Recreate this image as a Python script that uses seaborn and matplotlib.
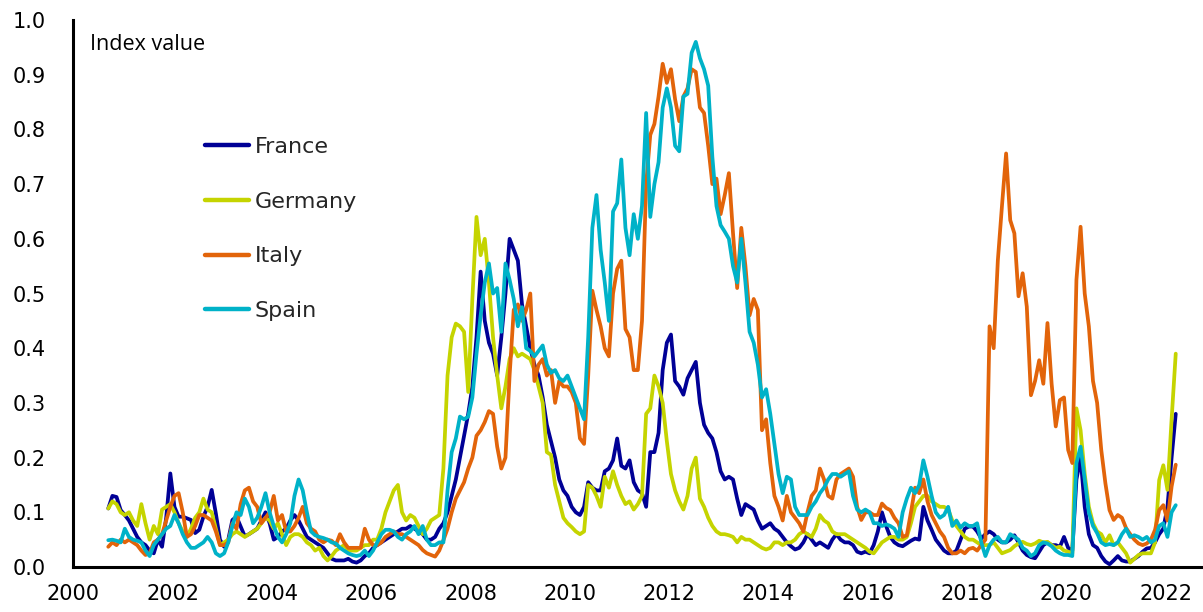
import numpy as np
import pandas as pd
import matplotlib
matplotlib.use("Agg")
import matplotlib.pyplot as plt
import seaborn as sns

# ---------------- data (monthly, Sep 2000 - Mar 2022) ----------------
countries = ["France", "Germany", "Italy", "Spain"]
colors = ["#000096", "#C5D400", "#E2640A", "#00B2C8"]
start_year, start_month = 2000, 9

france = [
    0.107, 0.13, 0.128, 0.104,
    0.095, 0.085, 0.07, 0.055, 0.045, 0.04, 0.03, 0.025, 0.05, 0.037, 0.09, 0.171,
    0.11, 0.092, 0.092, 0.089, 0.086, 0.062, 0.068, 0.092, 0.11, 0.141, 0.098, 0.05,
    0.037, 0.05, 0.086, 0.092, 0.074, 0.056, 0.06, 0.065, 0.07, 0.085, 0.1, 0.08,
    0.05, 0.055, 0.065, 0.07, 0.085, 0.095, 0.085, 0.07, 0.055, 0.05, 0.045, 0.04,
    0.035, 0.025, 0.015, 0.012, 0.012, 0.012, 0.015, 0.01, 0.008, 0.012, 0.02, 0.025,
    0.035, 0.04, 0.045, 0.05, 0.055, 0.06, 0.065, 0.07, 0.07, 0.075, 0.07, 0.065,
    0.06, 0.05, 0.05, 0.055, 0.07, 0.08, 0.1, 0.13, 0.16, 0.2, 0.24, 0.28,
    0.33, 0.42, 0.54, 0.45, 0.41, 0.39, 0.35, 0.42, 0.5, 0.6, 0.58, 0.56,
    0.48, 0.44, 0.4, 0.37, 0.35, 0.31, 0.26, 0.23, 0.2, 0.16, 0.14, 0.13,
    0.11, 0.1, 0.095, 0.11, 0.155, 0.145, 0.14, 0.14, 0.175, 0.18, 0.195, 0.235,
    0.185, 0.18, 0.195, 0.155, 0.14, 0.135, 0.11, 0.21, 0.21, 0.245, 0.36, 0.41,
    0.425, 0.34, 0.33, 0.315, 0.345, 0.36, 0.375, 0.3, 0.26, 0.245, 0.235, 0.21,
    0.175, 0.16, 0.165, 0.16, 0.125, 0.095, 0.115, 0.11, 0.105, 0.085, 0.07, 0.075,
    0.08, 0.07, 0.065, 0.055, 0.045, 0.038, 0.032, 0.035, 0.045, 0.06, 0.05, 0.04,
    0.045, 0.04, 0.035, 0.05, 0.06, 0.05, 0.045, 0.045, 0.04, 0.028, 0.025, 0.028,
    0.025, 0.04, 0.065, 0.1, 0.075, 0.055, 0.045, 0.04, 0.038, 0.043, 0.048, 0.052,
    0.05, 0.11, 0.085, 0.068, 0.05, 0.04, 0.03, 0.025, 0.025, 0.03, 0.05, 0.07,
    0.074, 0.074, 0.065, 0.052, 0.06, 0.065, 0.06, 0.05, 0.045, 0.045, 0.05, 0.058,
    0.045, 0.03, 0.022, 0.018, 0.016, 0.028, 0.04, 0.045, 0.04, 0.04, 0.037, 0.055,
    0.035, 0.03, 0.16, 0.2, 0.11, 0.06, 0.04, 0.035, 0.02, 0.01, 0.005, 0.012,
    0.02, 0.012, 0.01, 0.01, 0.015, 0.02, 0.028, 0.034, 0.035, 0.045, 0.06, 0.07,
    0.11, 0.2, 0.28,
]

germany = [
    0.107, 0.12, 0.115, 0.1,
    0.095, 0.1, 0.085, 0.075, 0.115, 0.08, 0.05, 0.075, 0.06, 0.105, 0.11, 0.115,
    0.1, 0.08, 0.065, 0.055, 0.07, 0.09, 0.1, 0.125, 0.105, 0.1, 0.07, 0.04,
    0.045, 0.05, 0.06, 0.065, 0.06, 0.055, 0.06, 0.065, 0.07, 0.08, 0.09, 0.085,
    0.07, 0.08, 0.06, 0.04, 0.055, 0.06, 0.06, 0.055, 0.045, 0.04, 0.03, 0.035,
    0.02, 0.012, 0.02, 0.03, 0.035, 0.04, 0.03, 0.03, 0.03, 0.035, 0.04, 0.04,
    0.05, 0.05, 0.07, 0.1, 0.12, 0.14, 0.15, 0.1, 0.085, 0.095, 0.09, 0.075,
    0.06, 0.07, 0.085, 0.09, 0.095, 0.18, 0.35, 0.42, 0.445, 0.44, 0.43, 0.32,
    0.49, 0.64, 0.57, 0.6, 0.52, 0.42, 0.35, 0.29, 0.33, 0.38, 0.4, 0.385,
    0.39, 0.385, 0.38, 0.36, 0.33, 0.3, 0.21, 0.205, 0.15, 0.12, 0.09, 0.08,
    0.073, 0.065, 0.06, 0.065, 0.15, 0.145, 0.13, 0.11, 0.165, 0.145, 0.175, 0.15,
    0.13, 0.115, 0.12, 0.105, 0.115, 0.13, 0.28, 0.29, 0.35, 0.33, 0.3, 0.23,
    0.17, 0.14, 0.12, 0.105, 0.13, 0.18, 0.2, 0.125, 0.11, 0.09, 0.075, 0.065,
    0.06, 0.06, 0.058, 0.055, 0.045, 0.055, 0.05, 0.05, 0.045, 0.04, 0.035, 0.032,
    0.035, 0.045, 0.045, 0.04, 0.045, 0.045, 0.05, 0.06, 0.065, 0.06, 0.055, 0.07,
    0.095, 0.085, 0.08, 0.065, 0.06, 0.06, 0.06, 0.055, 0.05, 0.045, 0.04, 0.035,
    0.028, 0.025, 0.035, 0.045, 0.05, 0.055, 0.055, 0.05, 0.05, 0.055, 0.08, 0.11,
    0.12, 0.13, 0.13, 0.12, 0.115, 0.11, 0.11, 0.105, 0.085, 0.075, 0.065, 0.055,
    0.05, 0.05, 0.045, 0.04, 0.04, 0.04, 0.045, 0.035, 0.025, 0.028, 0.031, 0.038,
    0.043, 0.046, 0.042, 0.04, 0.043, 0.048, 0.045, 0.046, 0.04, 0.035, 0.037, 0.03,
    0.028, 0.025, 0.29, 0.25, 0.17, 0.11, 0.08, 0.065, 0.06, 0.045, 0.058, 0.04,
    0.045, 0.035, 0.025, 0.008, 0.015, 0.022, 0.025, 0.025, 0.025, 0.045, 0.159, 0.186,
    0.141, 0.27, 0.39,
]

italy = [
    0.037, 0.045, 0.04, 0.05,
    0.045, 0.05, 0.045, 0.04, 0.03, 0.022, 0.025, 0.045, 0.05, 0.06, 0.085, 0.11,
    0.13, 0.135, 0.1, 0.055, 0.06, 0.075, 0.095, 0.095, 0.09, 0.085, 0.065, 0.04,
    0.04, 0.045, 0.08, 0.07, 0.115, 0.14, 0.145, 0.12, 0.11, 0.08, 0.09, 0.1,
    0.13, 0.085, 0.095, 0.065, 0.065, 0.075, 0.09, 0.11, 0.08, 0.07, 0.065, 0.05,
    0.045, 0.05, 0.048, 0.04, 0.06, 0.045, 0.035, 0.035, 0.035, 0.035, 0.07, 0.05,
    0.04, 0.04, 0.045, 0.055, 0.06, 0.065, 0.06, 0.06, 0.055, 0.05, 0.045, 0.04,
    0.031, 0.025, 0.022, 0.019, 0.03, 0.049, 0.07, 0.1, 0.125, 0.14, 0.155, 0.18,
    0.2, 0.24, 0.25, 0.265, 0.285, 0.28, 0.22, 0.18, 0.2, 0.35, 0.47, 0.48,
    0.45, 0.47, 0.5, 0.34, 0.37, 0.38, 0.35, 0.36, 0.3, 0.34, 0.33, 0.33,
    0.32, 0.3, 0.235, 0.225, 0.35, 0.505, 0.47, 0.44, 0.4, 0.385, 0.5, 0.545,
    0.56, 0.435, 0.42, 0.36, 0.36, 0.45, 0.7, 0.79, 0.81, 0.86, 0.92, 0.885,
    0.91, 0.855, 0.815, 0.86, 0.875, 0.91, 0.905, 0.84, 0.83, 0.77, 0.7, 0.71,
    0.645, 0.68, 0.72, 0.61, 0.51, 0.62, 0.55, 0.46, 0.49, 0.47, 0.25, 0.27,
    0.19, 0.13, 0.11, 0.085, 0.13, 0.1, 0.09, 0.08, 0.065, 0.1, 0.13, 0.14,
    0.18, 0.16, 0.13, 0.125, 0.16, 0.17, 0.175, 0.18, 0.165, 0.11, 0.086, 0.1,
    0.1, 0.095, 0.095, 0.116, 0.108, 0.104, 0.09, 0.08, 0.055, 0.058, 0.1, 0.145,
    0.135, 0.16, 0.12, 0.095, 0.08, 0.065, 0.055, 0.035, 0.025, 0.025, 0.03, 0.025,
    0.033, 0.035, 0.03, 0.04, 0.05, 0.44, 0.40, 0.56, 0.66, 0.756, 0.634, 0.61,
    0.495, 0.537, 0.476, 0.314, 0.34, 0.378, 0.335, 0.446, 0.335, 0.257, 0.305, 0.31,
    0.214, 0.19, 0.525, 0.622, 0.5, 0.44, 0.34, 0.3, 0.214, 0.153, 0.104, 0.086,
    0.095, 0.09, 0.071, 0.06, 0.05, 0.043, 0.04, 0.043, 0.05, 0.068, 0.104, 0.113,
    0.085, 0.147, 0.187,
]

spain = [
    0.049, 0.05, 0.048, 0.045,
    0.07, 0.055, 0.05, 0.048, 0.045, 0.03, 0.02, 0.04, 0.05, 0.06, 0.07, 0.075,
    0.095, 0.08, 0.06, 0.045, 0.035, 0.035, 0.04, 0.045, 0.055, 0.045, 0.025, 0.02,
    0.025, 0.045, 0.075, 0.1, 0.095, 0.125, 0.11, 0.08, 0.09, 0.11, 0.135, 0.1,
    0.075, 0.055, 0.045, 0.06, 0.08, 0.13, 0.16, 0.14, 0.1, 0.065, 0.058, 0.055,
    0.053, 0.05, 0.045, 0.043, 0.035, 0.03, 0.025, 0.022, 0.02, 0.022, 0.03, 0.02,
    0.03, 0.045, 0.06, 0.068, 0.068, 0.065, 0.055, 0.05, 0.06, 0.065, 0.075, 0.06,
    0.075, 0.05, 0.04, 0.04, 0.045, 0.045, 0.14, 0.21, 0.235, 0.275, 0.27, 0.275,
    0.31, 0.39, 0.46, 0.52, 0.555, 0.5, 0.51, 0.43, 0.555, 0.525, 0.49, 0.44,
    0.475, 0.4, 0.395, 0.385, 0.395, 0.405, 0.37, 0.355, 0.36, 0.345, 0.34, 0.35,
    0.33, 0.31, 0.29, 0.27, 0.42, 0.62, 0.68, 0.58, 0.52, 0.45, 0.65, 0.665,
    0.745, 0.62, 0.57, 0.645, 0.6, 0.66, 0.83, 0.64, 0.7, 0.74, 0.84, 0.875,
    0.84, 0.77, 0.76, 0.86, 0.865, 0.94, 0.96, 0.93, 0.91, 0.88, 0.75, 0.66,
    0.625, 0.613, 0.6, 0.55, 0.52, 0.6, 0.52, 0.43, 0.41, 0.37, 0.31, 0.325,
    0.28, 0.225, 0.17, 0.135, 0.165, 0.16, 0.11, 0.095, 0.095, 0.095, 0.11, 0.12,
    0.135, 0.145, 0.16, 0.17, 0.17, 0.165, 0.17, 0.175, 0.13, 0.105, 0.1, 0.105,
    0.1, 0.08, 0.08, 0.075, 0.078, 0.075, 0.07, 0.055, 0.1, 0.125, 0.145, 0.135,
    0.15, 0.195, 0.165, 0.13, 0.1, 0.09, 0.095, 0.11, 0.075, 0.085, 0.072, 0.08,
    0.075, 0.075, 0.08, 0.045, 0.02, 0.04, 0.05, 0.055, 0.045, 0.045, 0.06, 0.055,
    0.05, 0.035, 0.03, 0.02, 0.025, 0.04, 0.045, 0.043, 0.038, 0.03, 0.025, 0.022,
    0.022, 0.02, 0.19, 0.22, 0.16, 0.1, 0.075, 0.062, 0.045, 0.04, 0.042, 0.04,
    0.045, 0.06, 0.07, 0.055, 0.058, 0.055, 0.05, 0.055, 0.045, 0.05, 0.075, 0.08,
    0.055, 0.1, 0.113,
]

x_ticks = list(range(2000, 2023, 2))
y_ticks = [round(0.1 * i, 1) for i in range(11)]

# ---------------- build long-form frame ----------------
series = dict(zip(countries, [france, germany, italy, spain]))
frames = []
for name, vals in series.items():
    n = len(vals)
    yr = start_year + (start_month - 1 + np.arange(n) + 0.45) / 12.0
    frames.append(pd.DataFrame({"year": yr, "value": vals, "country": name}))
df = pd.concat(frames, ignore_index=True)

# ---------------- plot ----------------
sns.set_theme(style="white")
plt.rcParams["font.family"] = ["DejaVu Sans"]

W, H = 1203, 612
fig = plt.figure(figsize=(W / 100, H / 100), dpi=100)
ax = fig.add_axes([73.3 / W, 45 / H, (W - 73.3) / W, 547 / H])

sns.lineplot(data=df, x="year", y="value", hue="country", hue_order=countries,
             palette=dict(zip(countries, colors)), linewidth=2.7,
             estimator=None, ax=ax)

ax.set_xlim(2000, 2000 + (W - 73.3) / 49.65)
ax.set_ylim(0, 1.0)
ax.set_xticks(x_ticks)
ax.set_xticklabels([str(t) for t in x_ticks])
ax.set_yticks(y_ticks)
ax.set_yticklabels([f"{t:.1f}" for t in y_ticks])
ax.set_xlabel("")
ax.set_ylabel("")

for s in ["top", "right"]:
    ax.spines[s].set_visible(False)
for s in ["left", "bottom"]:
    ax.spines[s].set_color("black")
    ax.spines[s].set_linewidth(2.2)

ax.tick_params(axis="x", direction="inout", length=11, width=2.2, pad=7,
               labelsize=15, colors="black")
ax.tick_params(axis="y", direction="in", length=8, width=2.2, pad=20,
               labelsize=15, colors="black")

handles, labels = ax.get_legend_handles_labels()
leg = ax.legend(handles, labels, loc="upper left",
                bbox_to_anchor=(205 / W, 1 - 137 / H),
                bbox_transform=fig.transFigure, frameon=False, fontsize=16,
                handlelength=2.0, handletextpad=0.25, labelspacing=1.56,
                borderpad=0, borderaxespad=0)
for h in leg.get_lines():
    h.set_linewidth(3.2)

fig.text(90 / W, 1 - 45 / H, "Index value", fontsize=15.5, va="center",
         ha="left", color="black", family=["Open Sans", "DejaVu Sans"])

fig.savefig("out.png", dpi=100)
